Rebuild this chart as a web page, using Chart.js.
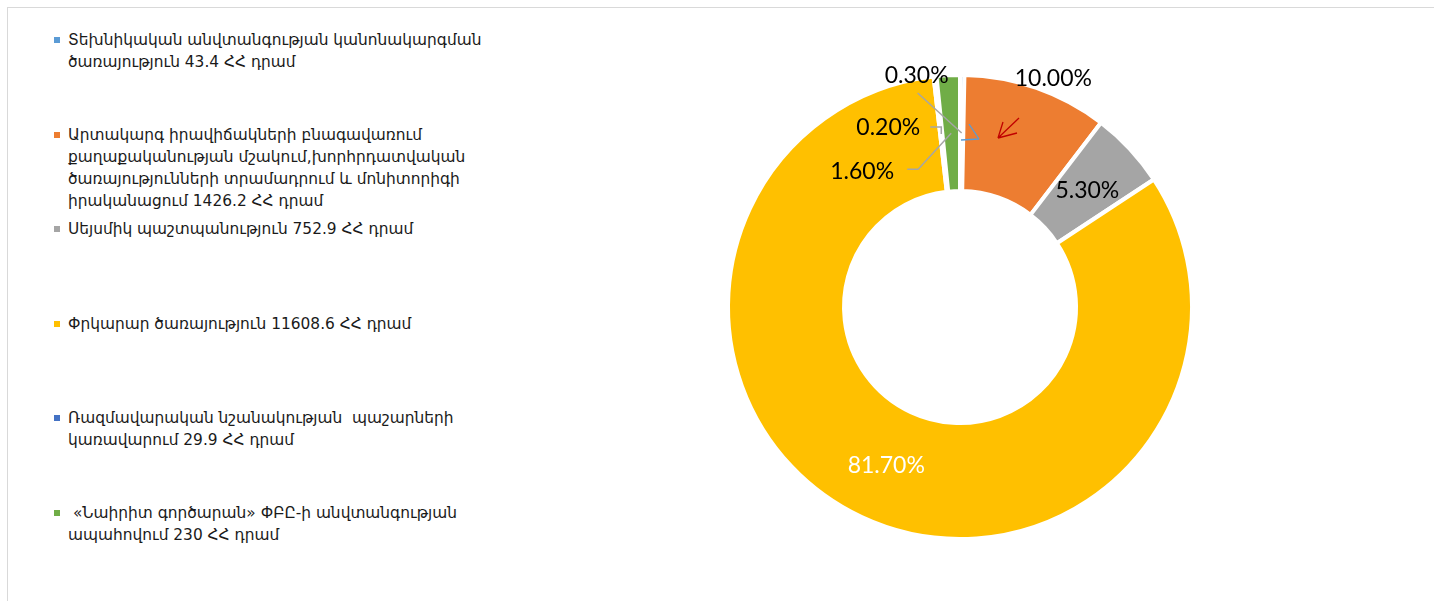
<!DOCTYPE html>
<html>
<head>
<meta charset="utf-8">
<script src="https://cdn.jsdelivr.net/npm/chart.js@4.4.1/dist/chart.umd.min.js"></script>
<style>
  html, body { margin: 0; padding: 0; background: #fff; overflow: hidden; }
  body { width: 1434px; height: 601px; position: relative; }
  .frame { position: absolute; left: 7px; top: 7px; width: 1460px; height: 620px; border: 1px solid #d9d9d9; box-sizing: border-box; }
  #legend { position: absolute; left: 54px; top: 29px; margin: 0; padding: 0; list-style: none;
            font-family: "DejaVu Sans", sans-serif; font-size: 15.4px; color: #1a1a1a; }
  #legend li { height: 94.5px; position: relative; padding-left: 14px; line-height: 22px; white-space: pre; }
  #legend .box { position: absolute; left: 0; top: 8px; width: 6px; height: 6px; }
  .wrap { position: absolute; left: 660px; top: 7px; width: 600px; height: 600px; }
</style>
</head>
<body>
<div class="frame"></div>
<ul id="legend"></ul>
<div class="wrap"><canvas id="chart"></canvas></div>
<script>
const categories = [
  ['Տեխնիկական անվտանգության կանոնակարգման', 'ծառայություն'],
  ['Արտակարգ իրավիճակների բնագավառում', 'քաղաքականության մշակում,խորհրդատվական', 'ծառայությունների տրամադրում և մոնիտորիգի', 'իրականացում'],
  ['Սեյսմիկ պաշտպանություն'],
  ['Փրկարար ծառայություն'],
  ['Ռազմավարական նշանակության  պաշարների', 'կառավարում'],
  [' «Նաիրիտ գործարան» ՓԲԸ-ի անվտանգության', 'ապահովում']
];
const amounts = [43.4, 1426.2, 752.9, 11608.6, 29.9, 230];
const shares = [0.3, 10.0, 5.3, 81.7, 0.2, 1.6];
const colors = ['#5B9BD5', '#ED7D31', '#A5A5A5', '#FFC000', '#4472C4', '#70AD47'];

// label position relative to the centre of its slice
const labelShift = [[-45, -57], [36, -64], [0, 2], [0, 1], [-53, -6], [-89, 38]];
const labelColor = ['#000', '#000', '#000', '#fff', '#000', '#000'];
// leader lines: start relative to the label, optional elbow ('v' = straight down to the slice)
const leaders = [
  { from: [1, 17] },
  null, null, null,
  { from: [42, -1], elbow: 'v' },
  { from: [45, -2], elbow: [56, -2] }
];

function legendText(i) {
  const lines = categories[i].slice();
  lines[lines.length - 1] += ' ' + amounts[i] + ' ՀՀ դրամ';
  return lines;
}

const htmlLegend = {
  id: 'htmlLegend',
  afterUpdate(chart) {
    const ul = document.getElementById('legend');
    ul.innerHTML = '';
    chart.data.labels.forEach((lbl, i) => {
      const li = document.createElement('li');
      const box = document.createElement('span');
      box.className = 'box';
      box.style.background = chart.data.datasets[0].backgroundColor[i];
      li.appendChild(box);
      lbl.forEach((line, k) => {
        if (k) li.appendChild(document.createElement('br'));
        li.appendChild(document.createTextNode(line));
      });
      ul.appendChild(li);
    });
  }
};

const sliceLabels = {
  id: 'sliceLabels',
  afterDatasetsDraw(chart) {
    const ctx = chart.ctx;
    const arcs = chart.getDatasetMeta(0).data;
    const cx = arcs[0].x, cy = arcs[0].y;
    ctx.save();
    ctx.font = '23px Lato, "Open Sans", sans-serif';
    ctx.textAlign = 'center';
    ctx.textBaseline = 'middle';
    arcs.forEach((arc, i) => {
      const c = arc.getCenterPoint();
      const lx = c.x + labelShift[i][0], ly = c.y + labelShift[i][1];
      const ld = leaders[i];
      if (ld) {
        ctx.strokeStyle = '#a6a6a6';
        ctx.lineWidth = 1.5;
        ctx.beginPath();
        const sx = lx + ld.from[0], sy = ly + ld.from[1];
        ctx.moveTo(sx, sy);
        if (ld.elbow === 'v') ctx.lineTo(c.x, sy);
        else if (ld.elbow) ctx.lineTo(lx + ld.elbow[0], ly + ld.elbow[1]);
        ctx.lineTo(c.x, c.y);
        ctx.stroke();
      }
      ctx.fillStyle = labelColor[i];
      ctx.fillText(shares[i].toFixed(2) + '%', lx, ly);
    });

    // hand-drawn arrows near the top of the ring
    const arrow = (col, tail, tip, heads) => {
      ctx.strokeStyle = col;
      ctx.lineWidth = 1.3;
      ctx.beginPath();
      ctx.moveTo(cx + tail[0], cy + tail[1]);
      ctx.lineTo(cx + tip[0], cy + tip[1]);
      heads.forEach(h => {
        ctx.moveTo(cx + h[0], cy + h[1]);
        ctx.lineTo(cx + tip[0], cy + tip[1]);
      });
      ctx.stroke();
    };
    arrow('#5B9BD5', [1, -167], [19, -168], [[9, -183]]);
    arrow('#C00000', [59, -189], [38, -169], [[43, -185], [57, -174]]);
    ctx.restore();
  }
};

new Chart(document.getElementById('chart'), {
  type: 'doughnut',
  data: {
    labels: categories.map((c, i) => legendText(i)),
    datasets: [{
      data: shares,
      backgroundColor: colors,
      borderColor: '#ffffff',
      borderWidth: 4
    }]
  },
  options: {
    responsive: true,
    maintainAspectRatio: false,
    animation: false,
    events: [],
    radius: 232,
    cutout: '50%',
    plugins: {
      legend: { display: false },
      tooltip: { enabled: false }
    }
  },
  plugins: [htmlLegend, sliceLabels]
});
</script>
</body>
</html>
